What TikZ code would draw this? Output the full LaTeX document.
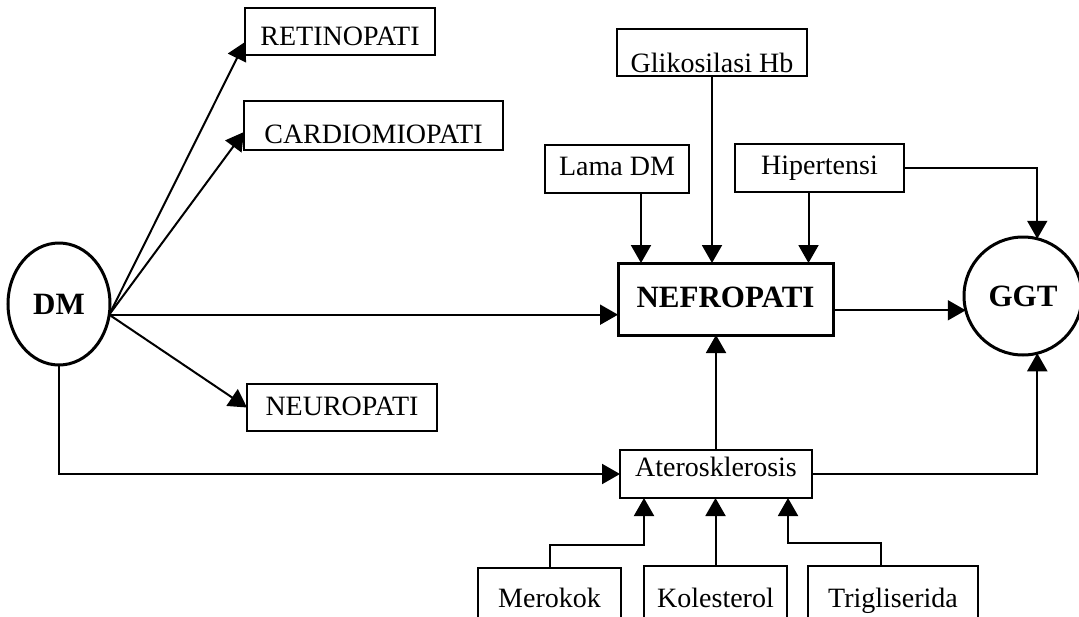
\documentclass[tikz,border=0pt]{standalone}
\usepackage{fontspec}
\setmainfont{Liberation Serif}
\usetikzlibrary{shapes.geometric,arrows.meta,calc}
\begin{document}
\begin{tikzpicture}[x=1pt,y=-1pt,
  every node/.style={inner sep=0pt, outer sep=0pt},
  box/.style={draw, line width=2pt, anchor=base, font=\fontsize{28}{33}\selectfont},
  bigbox/.style={draw, line width=3pt, anchor=base, font=\fontsize{31}{37}\selectfont\bfseries},
  oval/.style={draw, ellipse, line width=3pt, font=\fontsize{31}{37}\selectfont\bfseries},
  link/.style={line width=2pt, -{Triangle[length=18pt,width=20pt]}},
]
\useasboundingbox (0,0) rectangle (1079,616);

% central nodes
\node[oval, minimum width=102pt, minimum height=122pt] (dm) at (59,304) {DM};
\node[oval, minimum width=118pt, minimum height=118pt] (ggt) at (1023,296) {GGT};
\node[bigbox, minimum width=215pt, text height=44pt, text depth=28pt] (nefro) at (725.5,307) {NEFROPATI};

% complications of DM
\node[box, minimum width=190pt, text height=37pt, text depth=10pt] (reti) at (340,45) {RETINOPATI};
\node[box, minimum width=259pt, text height=42pt, text depth=7pt] (cardio) at (373.5,143) {CARDIOMIOPATI};
\node[box, minimum width=190pt, text height=31pt, text depth=16pt] (neuro) at (342,415) {NEUROPATI};

% factors acting on nephropathy
\node[box, minimum width=190pt, text height=43pt, text depth=4pt] (glik) at (712,72) {Glikosilasi Hb};
\node[box, minimum width=144pt, text height=30pt, text depth=18pt] (lama) at (617,175) {Lama DM};
\node[box, minimum width=169pt, text height=30pt, text depth=18pt] (hip) at (819.5,174) {Hipertensi};

% atherosclerosis and its risk factors
\node[box, minimum width=192pt, text height=26pt, text depth=22pt] (ater) at (716,476) {Aterosklerosis};
\node[box, minimum width=143pt, text height=39pt, text depth=33pt] (mer) at (549.5,607) {Merokok};
\node[box, minimum width=143pt, text height=41pt, text depth=33pt] (kol) at (715.5,607) {Kolesterol};
\node[box, minimum width=170pt, text height=41pt, text depth=33pt] (tri) at (893,607) {Trigliserida};

% connectors from DM
\coordinate (dmout) at (dm.-12);
\draw[link] (dmout) -- ([yshift=-10.5pt]reti.west);
\draw[link] (dmout) -- ([yshift=-6.5pt]cardio.west);
\draw[link] (dmout) -- (neuro.west);
\draw[link] (dmout) -- (dmout -| nefro.west);
\draw[link] (dm.south) |- (ater.west);

% into nephropathy
\draw[link] ([xshift=24pt]lama.south) -- ([xshift=24pt]lama.south |- nefro.north);
\draw[link] (glik.south) -- (glik.south |- nefro.north);
\draw[link] ([xshift=-11pt]hip.south) -- ([xshift=-11pt]hip.south |- nefro.north);
\draw[link] (ater.north) -- (ater.north |- nefro.south);

% into GGT
\draw[link] (ggt.194 -| nefro.east) -- (ggt.194);
\draw[link] (hip.east) -| (ggt.76);
\draw[link] (ater.east) -| (ggt.-76);

% risk factors into atherosclerosis
\draw[link] (mer.north) -- ++(0,-23) -| ([xshift=-72pt]ater.south);
\draw[link] (kol.north) -- (kol.north |- ater.south);
\draw[link] ([xshift=-12pt]tri.north) -- ++(0,-23) -| ([xshift=72pt]ater.south);
\end{tikzpicture}
\end{document}
